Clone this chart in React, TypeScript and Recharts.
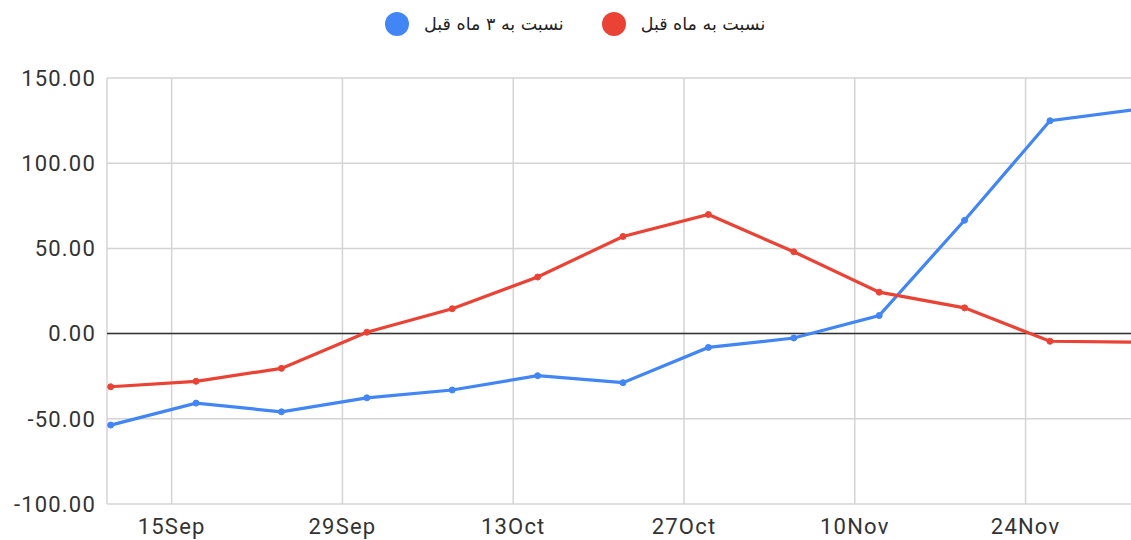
import { LineChart, Line, CartesianGrid, XAxis, YAxis, ReferenceLine } from 'recharts';

// weekly readings, day offsets counted from 10 Sep
const weekDates = ['10Sep', '17Sep', '24Sep', '1Oct', '8Oct', '15Oct', '22Oct', '29Oct', '5Nov', '12Nov', '19Nov', '26Nov', '3Dec'];
const weekDays = [0, 7, 14, 21, 28, 35, 42, 49, 56, 63, 70, 77, 84];
const vsThreeMonths = [-53.7, -40.8, -45.9, -37.7, -33.1, -24.7, -28.8, -8.1, -2.6, 10.6, 66.5, 124.9, 131.5];
const vsLastMonth = [-31.2, -28.0, -20.4, 0.8, 14.6, 33.2, 57.0, 69.9, 48.0, 24.3, 15.1, -4.5, -5.0];

const tickDays = [5, 19, 33, 47, 61, 75];
const tickLabels = ['15Sep', '29Sep', '13Oct', '27Oct', '10Nov', '24Nov'];
const yTicks = [-100, -50, 0, 50, 100, 150];

const seriesNames = ['نسبت به ۳ ماه قبل', 'نسبت به ماه قبل'];
const seriesColors = ['#4285F4', '#EA4335'];

const data = weekDays.map((day, i) => ({
  day,
  date: weekDates[i],
  three: vsThreeMonths[i],
  one: vsLastMonth[i],
}));

const tickFont = { fontFamily: 'Roboto, Arial, sans-serif', fontSize: 22, fill: '#333', letterSpacing: 1.2 };

export default function App() {
  return (
    <div style={{ position: 'fixed', left: 0, top: 0, width: 1131, height: 540, overflow: 'hidden', background: '#fff' }}>
      <div
        style={{
          position: 'absolute',
          top: 12,
          left: 385,
          display: 'flex',
          alignItems: 'center',
          fontFamily: '"DejaVu Sans", sans-serif',
          fontSize: 17.5,
          color: '#222',
        }}
      >
        {seriesNames.map((name, i) => (
          <div key={name} style={{ display: 'flex', alignItems: 'center', marginRight: 38 }}>
            <span
              style={{ width: 24, height: 24, borderRadius: 12, background: seriesColors[i], display: 'inline-block', marginRight: 15 }}
            />
            <span dir="rtl">{name}</span>
          </div>
        ))}
      </div>
      <LineChart width={1145} height={540} data={data} margin={{ top: 78, right: 6, bottom: 0, left: 0 }}>
        <CartesianGrid stroke="#d4d4d4" strokeWidth={1.5} />
        <XAxis
          type="number"
          dataKey="day"
          domain={[-0.3, 84.3]}
          ticks={tickDays}
          tickFormatter={(v: number) => tickLabels[tickDays.indexOf(v)]}
          axisLine={false}
          tickLine={false}
          tickSize={0}
          tickMargin={14}
          height={36}
          tick={tickFont}
          allowDataOverflow
        />
        <YAxis
          domain={[-100, 150]}
          ticks={yTicks}
          tickFormatter={(v: number) => v.toFixed(2)}
          axisLine={false}
          tickLine={false}
          tickSize={0}
          tickMargin={11}
          width={107}
          tick={tickFont}
        />
        <ReferenceLine y={0} stroke="#333" strokeWidth={1.5} />
        <Line
          dataKey="three"
          name={seriesNames[0]}
          stroke={seriesColors[0]}
          strokeWidth={3.2}
          dot={{ r: 3, fill: seriesColors[0], stroke: seriesColors[0], strokeWidth: 1 }}
          isAnimationActive={false}
        />
        <Line
          dataKey="one"
          name={seriesNames[1]}
          stroke={seriesColors[1]}
          strokeWidth={3.2}
          dot={{ r: 3, fill: seriesColors[1], stroke: seriesColors[1], strokeWidth: 1 }}
          isAnimationActive={false}
        />
      </LineChart>
    </div>
  );
}
